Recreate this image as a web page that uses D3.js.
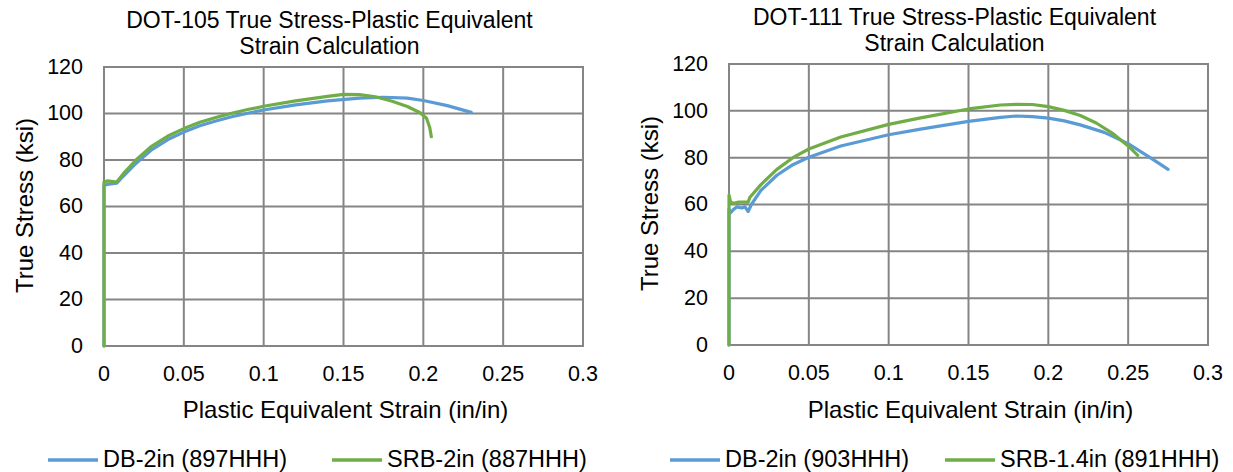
<!DOCTYPE html>
<html>
<head>
<meta charset="utf-8">
<script src="https://cdn.jsdelivr.net/npm/d3@7"></script>
<style>
  body { margin: 0; background: #fff; }
  svg { display: block; font-family: "Liberation Sans", Arial, sans-serif; }
</style>
</head>
<body>
<svg id="chart" width="1233" height="472"></svg>
<script>
// Tick values shared by both charts
const xTicks = [0, 0.05, 0.1, 0.15, 0.2, 0.25, 0.3];
const yTicks = [0, 20, 40, 60, 80, 100, 120];

// DOT-105 series: [plastic equivalent strain, true stress (ksi)]
const db105 = [[0,0],[0,69],[0.002,69.5],[0.008,70],[0.012,73],[0.02,78.5],[0.03,84.5],[0.04,88.8],
  [0.05,92],[0.06,94.7],[0.07,96.8],[0.08,98.6],[0.09,100.1],[0.1,101.5],[0.12,103.7],[0.14,105.4],
  [0.16,106.6],[0.175,107],[0.19,106.6],[0.2,105.6],[0.215,103.4],[0.23,100.5]];
const srb105 = [[0,0],[0,70.5],[0.002,71],[0.008,70.5],[0.012,74],[0.02,80],[0.03,86],[0.04,90.3],
  [0.05,93.5],[0.06,96.2],[0.07,98.3],[0.08,100.1],[0.09,101.7],[0.1,103.1],[0.12,105.4],[0.14,107.4],
  [0.15,108.2],[0.16,108.1],[0.17,107.2],[0.18,105.4],[0.19,103],[0.198,100.3],[0.202,98],[0.204,94],[0.205,90]];

// DOT-111 series
const db111 = [[0,0],[0,58],[0.001,56.5],[0.003,58],[0.005,59],[0.008,58.5],[0.01,59],[0.012,57],
  [0.014,60],[0.02,66],[0.03,72.5],[0.04,77],[0.05,80.2],[0.07,85],[0.1,89.8],[0.12,92.2],[0.15,95.5],
  [0.17,97.2],[0.18,97.8],[0.19,97.5],[0.2,96.9],[0.21,95.7],[0.22,94],[0.235,90.8],[0.25,86],
  [0.265,79.5],[0.275,75]];
const srb111 = [[0,0],[0,64],[0.001,61],[0.003,60.5],[0.006,61],[0.012,61],[0.013,63],[0.02,68.5],
  [0.03,75],[0.04,80],[0.05,83.7],[0.07,88.8],[0.1,94.2],[0.12,97],[0.15,100.8],[0.17,102.5],
  [0.18,102.8],[0.19,102.7],[0.2,101.8],[0.21,100.2],[0.22,98],[0.23,94.8],[0.24,90.5],[0.25,85],[0.256,81]];

const charts = [
  {
    title: ["DOT-105 True Stress-Plastic Equivalent", "Strain Calculation"],
    box: { x: 104, y: 67, w: 479, h: 279 },
    series: [
      { name: "DB-2in (897HHH)", data: db105, color: "#5b9bd5" },
      { name: "SRB-2in (887HHH)", data: srb105, color: "#70ad47" }
    ],
    legendX: [48, 332]
  },
  {
    title: ["DOT-111 True Stress-Plastic Equivalent", "Strain Calculation"],
    box: { x: 729, y: 64, w: 479, h: 281 },
    series: [
      { name: "DB-2in (903HHH)", data: db111, color: "#5b9bd5" },
      { name: "SRB-1.4in (891HHH)", data: srb111, color: "#70ad47" }
    ],
    legendX: [670, 945]
  }
];

const svg = d3.select("#chart");

charts.forEach(c => {
  const b = c.box;
  const x = d3.scaleLinear().domain([0, 0.3]).range([0, b.w]);
  const y = d3.scaleLinear().domain([0, 120]).range([b.h, 0]);
  const g = svg.append("g").attr("transform", `translate(${b.x},${b.y})`);

  // gridlines + tick labels
  const xAxis = g.append("g").attr("transform", `translate(0,${b.h})`)
    .call(d3.axisBottom(x).tickValues(xTicks).tickSize(-b.h).tickPadding(20).offset(0).tickFormat(d3.format("")));
  const yAxis = g.append("g")
    .call(d3.axisLeft(y).tickValues(yTicks).tickSize(-b.w).tickPadding(21).offset(0));
  [xAxis, yAxis].forEach(a => {
    a.select(".domain").remove();
    a.selectAll("line").attr("stroke", "#858585").attr("stroke-width", 2);
    a.selectAll("text").attr("fill", "#000").style("font-size", "21.5px")
      .style("font-family", '"Liberation Sans", Arial, sans-serif');
  });
  g.append("rect").attr("width", b.w).attr("height", b.h)
    .attr("fill", "none").attr("stroke", "#858585").attr("stroke-width", 2);

  c.series.forEach(s => {
    g.append("path").datum(s.data).attr("d", d3.line().x(d => x(d[0])).y(d => y(d[1])))
      .attr("fill", "none").attr("stroke", s.color).attr("stroke-width", 3.2)
      .attr("stroke-linejoin", "round").attr("stroke-linecap", "round");
  });

  // title
  const cx = b.x + b.w / 2 - 14;
  svg.append("text").attr("x", cx).attr("y", b.y - 39).attr("text-anchor", "middle")
    .style("font-size", "23px").attr("fill", "#000").text(c.title[0]);
  svg.append("text").attr("x", cx).attr("y", b.y - 13).attr("text-anchor", "middle")
    .style("font-size", "23px").attr("fill", "#000").text(c.title[1]);

  // axis titles
  svg.append("text").attr("x", b.x + b.w / 2 + 2).attr("y", 418).attr("text-anchor", "middle")
    .style("font-size", "24px").attr("fill", "#000").text("Plastic Equivalent Strain (in/in)");
  svg.append("text").attr("transform", `translate(${b.x - 71},${b.y + b.h / 2 - 1}) rotate(-90)`)
    .attr("text-anchor", "middle").style("font-size", "24px").attr("fill", "#000").text("True Stress (ksi)");

  // legend
  c.series.forEach((s, i) => {
    const lx = c.legendX[i];
    svg.append("line").attr("x1", lx).attr("x2", lx + 50).attr("y1", 460).attr("y2", 460)
      .attr("stroke", s.color).attr("stroke-width", 3.5);
    svg.append("text").attr("x", lx + 55).attr("y", 467).style("font-size", "23.5px")
      .attr("fill", "#000").text(s.name);
  });
});
</script>
</body>
</html>
